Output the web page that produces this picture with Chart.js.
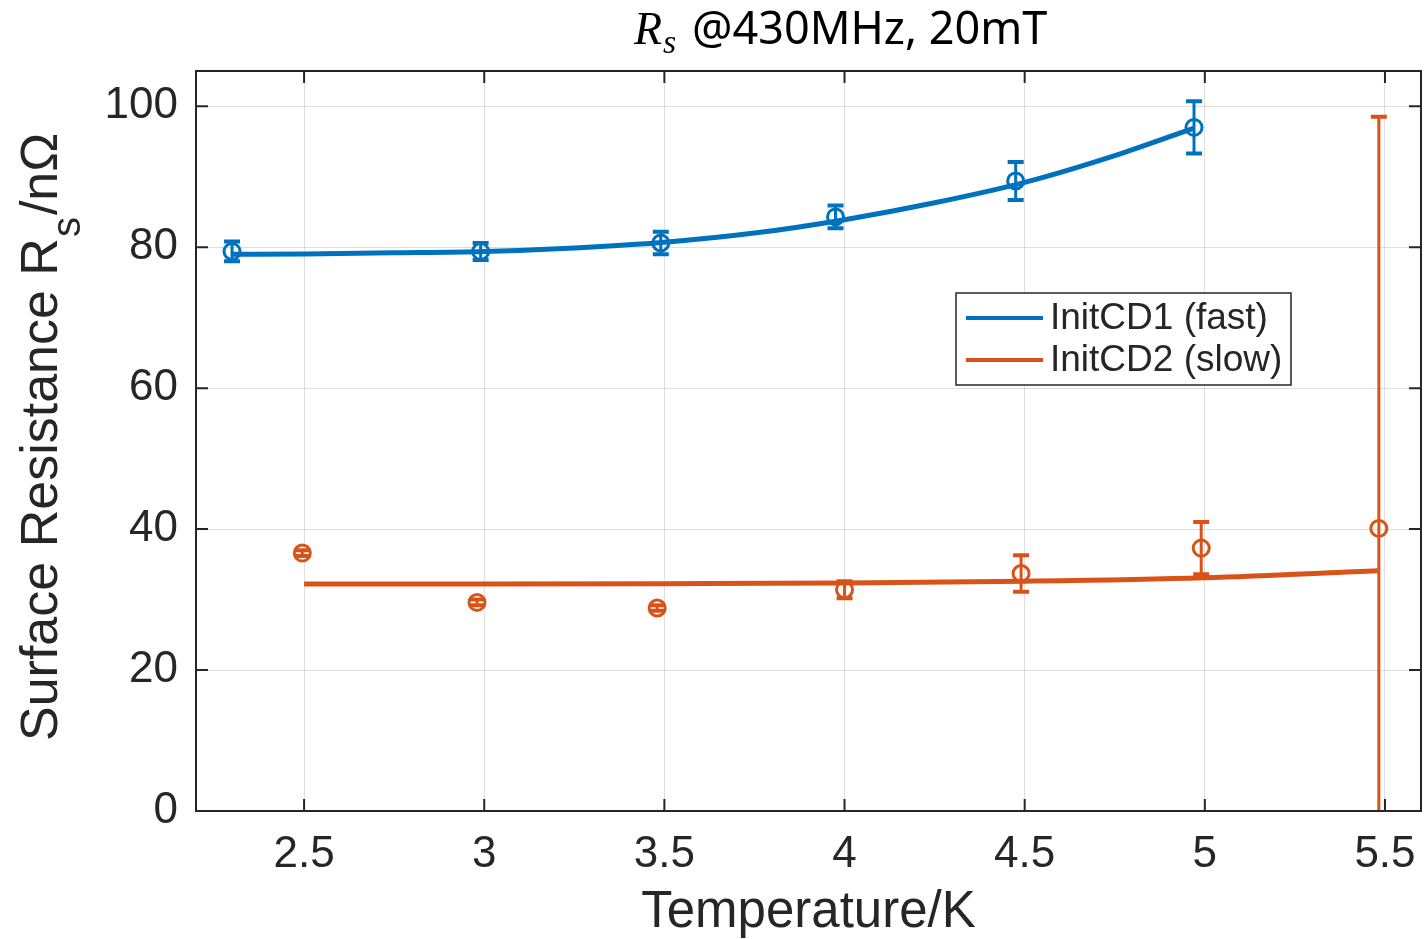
<!DOCTYPE html>
<html lang="en">

<head>
  <meta charset="UTF-8" />
  <title>Rs @430MHz, 20mT</title>
  <script src="https://cdn.jsdelivr.net/npm/chart.js@4"></script>
  <style>
    html, body { margin: 0; padding: 0; background: #fff; }
    canvas { display: block; }
  </style>
</head>

<body>
  <canvas id="rsChart" width="1425" height="939"></canvas>

  <script>
    // Measured points: temperature (K), Rs (nOhm), +/- error
    const tempFast = [2.30, 2.99, 3.49, 3.975, 4.475, 4.97];
    const rsFast = [79.4, 79.4, 80.6, 84.3, 89.4, 97.0];
    const errFast = [1.4, 1.2, 1.6, 1.6, 2.7, 3.7];

    const tempSlow = [2.495, 2.98, 3.48, 4.00, 4.49, 4.99, 5.483];
    const rsSlow = [36.6, 29.6, 28.8, 31.4, 33.7, 37.3, 40.1];
    const errSlow = [0.4, 0.4, 0.4, 1.2, 2.6, 3.7, 58.4];

    // Fit curves
    const fitFastT = [2.30, 2.50, 2.75, 3.00, 3.25, 3.50, 3.75, 4.00, 4.25, 4.50, 4.75, 4.97];
    const fitFastRs = [79.0, 79.05, 79.2, 79.4, 79.9, 80.7, 82.0, 83.9, 86.3, 89.2, 93.0, 96.9];
    const fitSlowT = [2.50, 3.00, 3.50, 4.00, 4.50, 5.00, 5.48];
    const fitSlowRs = [32.2, 32.2, 32.25, 32.35, 32.6, 33.1, 34.1];

    const xTicks = [2.5, 3, 3.5, 4, 4.5, 5, 5.5];
    const yTicks = [0, 20, 40, 60, 80, 100];
    const seriesLabels = ["InitCD1 (fast)", "InitCD2 (slow)"];

    const blue = "#0072BD";
    const orange = "#D95319";
    const axisColor = "#262626";

    function toPoints(xs, ys) {
      return xs.map((x, i) => ({ x: x, y: ys[i] }));
    }

    // vertical error bars with caps
    const errorBars = {
      id: "errorBars",
      afterDatasetsDraw(chart) {
        const { ctx, chartArea, scales } = chart;
        ctx.save();
        ctx.beginPath();
        ctx.rect(chartArea.left, chartArea.top, chartArea.right - chartArea.left, chartArea.bottom - chartArea.top);
        ctx.clip();
        chart.data.datasets.forEach((ds) => {
          if (!ds.errors) return;
          ctx.strokeStyle = ds.borderColor;
          ds.data.forEach((p, i) => {
            const px = scales.x.getPixelForValue(p.x);
            const top = scales.y.getPixelForValue(p.y + ds.errors[i]);
            const bot = scales.y.getPixelForValue(p.y - ds.errors[i]);
            ctx.lineWidth = 3;
            ctx.beginPath();
            ctx.moveTo(px, top);
            ctx.lineTo(px, bot);
            ctx.stroke();
            ctx.lineWidth = 4;
            ctx.beginPath();
            ctx.moveTo(px - 8, top);
            ctx.lineTo(px + 8, top);
            ctx.moveTo(px - 8, bot);
            ctx.lineTo(px + 8, bot);
            ctx.stroke();
          });
        });
        ctx.restore();
      }
    };

    // box, inward ticks, titles and legend (MATLAB look)
    const frame = {
      id: "frame",
      afterDraw(chart) {
        const { ctx, chartArea, scales } = chart;
        const { left, right, top, bottom } = chartArea;
        ctx.save();

        ctx.strokeStyle = axisColor;
        ctx.lineWidth = 2;
        ctx.strokeRect(left, top, right - left, bottom - top);

        ctx.beginPath();
        xTicks.forEach((v) => {
          const px = scales.x.getPixelForValue(v);
          ctx.moveTo(px, bottom);
          ctx.lineTo(px, bottom - 12);
          ctx.moveTo(px, top);
          ctx.lineTo(px, top + 12);
        });
        yTicks.forEach((v) => {
          const py = scales.y.getPixelForValue(v);
          ctx.moveTo(left, py);
          ctx.lineTo(left + 12, py);
          ctx.moveTo(right, py);
          ctx.lineTo(right - 12, py);
        });
        ctx.stroke();

        // title
        ctx.fillStyle = "#000";
        ctx.textBaseline = "alphabetic";
        ctx.textAlign = "left";
        ctx.font = "italic 46px 'Liberation Serif'";
        ctx.fillText("R", 634, 44);
        const rw = ctx.measureText("R").width;
        ctx.font = "italic 34px 'Liberation Serif'";
        ctx.fillText("s", 634 + rw + 1, 53);
        ctx.font = "45px 'Noto Sans'";
        ctx.fillText("@430MHz, 20mT", 692, 44);

        // x axis title
        ctx.fillStyle = axisColor;
        ctx.font = "51px 'Liberation Sans'";
        ctx.textAlign = "center";
        ctx.fillText("Temperature/K", (left + right) / 2, 927);

        // y axis title with subscript
        ctx.save();
        ctx.translate(57, 741);
        ctx.rotate(-Math.PI / 2);
        ctx.textAlign = "left";
        ctx.font = "52px 'Liberation Sans'";
        const main = "Surface Resistance R";
        ctx.fillText(main, 0, 0);
        let w = ctx.measureText(main).width;
        ctx.font = "40px 'Liberation Sans'";
        ctx.fillText("s", w + 1, 23);
        w += ctx.measureText("s").width + 3;
        ctx.font = "52px 'Liberation Sans'";
        ctx.fillText("/n\u03A9", w, 0);
        ctx.restore();

        // legend
        const lx = 956, ly = 293, lw = 335, lh = 92;
        ctx.fillStyle = "#fff";
        ctx.fillRect(lx, ly, lw, lh);
        ctx.strokeStyle = axisColor;
        ctx.lineWidth = 1.5;
        ctx.strokeRect(lx, ly, lw, lh);
        ctx.font = "37px 'Liberation Sans'";
        ctx.textBaseline = "middle";
        ctx.textAlign = "left";
        chart.data.datasets.filter((ds) => ds.showLine).forEach((ds, i) => {
          const yy = ly + 25 + i * 42;
          ctx.strokeStyle = ds.borderColor;
          ctx.lineWidth = 4;
          ctx.beginPath();
          ctx.moveTo(lx + 10, yy);
          ctx.lineTo(lx + 87, yy);
          ctx.stroke();
          ctx.fillStyle = axisColor;
          ctx.fillText(ds.label, lx + 94, yy + 1);
        });

        ctx.restore();
      }
    };

    const lineStyle = {
      showLine: true,
      pointRadius: 0,
      borderWidth: 5,
      cubicInterpolationMode: "monotone",
      fill: false
    };
    const markerStyle = {
      pointRadius: 8,
      pointBorderWidth: 3,
      pointBackgroundColor: "rgba(0,0,0,0)",
      showLine: false
    };

    new Chart(document.getElementById("rsChart"), {
      type: "scatter",
      data: {
        datasets: [
          { ...lineStyle, label: seriesLabels[0], data: toPoints(fitFastT, fitFastRs), borderColor: blue },
          { ...lineStyle, label: seriesLabels[1], data: toPoints(fitSlowT, fitSlowRs), borderColor: orange },
          { ...markerStyle, label: "fast data", data: toPoints(tempFast, rsFast), errors: errFast, borderColor: blue, pointBorderColor: blue },
          { ...markerStyle, label: "slow data", data: toPoints(tempSlow, rsSlow), errors: errSlow, borderColor: orange, pointBorderColor: orange }
        ]
      },
      options: {
        responsive: false,
        animation: false,
        devicePixelRatio: 1,
        layout: { autoPadding: false, padding: { top: 71, right: 4, left: 0, bottom: 0 } },
        plugins: {
          legend: { display: false },
          tooltip: { enabled: false },
          title: { display: false }
        },
        scales: {
          x: {
            type: "linear",
            min: 2.2,
            max: 5.6,
            afterBuildTicks: (scale) => { scale.ticks = xTicks.map((v) => ({ value: v })); },
            afterFit: (scale) => {
              scale.height = 128;
              scale.paddingLeft = 0;
              scale.paddingRight = 0;
            },
            border: { display: false },
            grid: { color: "rgba(38,38,38,0.15)", lineWidth: 1, drawTicks: false },
            ticks: {
              padding: 17,
              color: axisColor,
              font: { family: "'Liberation Sans'", size: 44 },
              maxRotation: 0,
              callback: (v) => String(v)
            }
          },
          y: {
            min: 0,
            max: 105,
            afterBuildTicks: (scale) => { scale.ticks = yTicks.map((v) => ({ value: v })); },
            afterFit: (scale) => {
              scale.width = 196;
              scale.paddingTop = 0;
              scale.paddingBottom = 0;
            },
            border: { display: false },
            grid: { color: "rgba(38,38,38,0.15)", lineWidth: 1, drawTicks: false },
            ticks: {
              padding: 18,
              color: axisColor,
              font: { family: "'Liberation Sans'", size: 44 },
              callback: (v) => String(v)
            }
          }
        }
      },
      plugins: [errorBars, frame]
    });
  </script>
</body>

</html>
